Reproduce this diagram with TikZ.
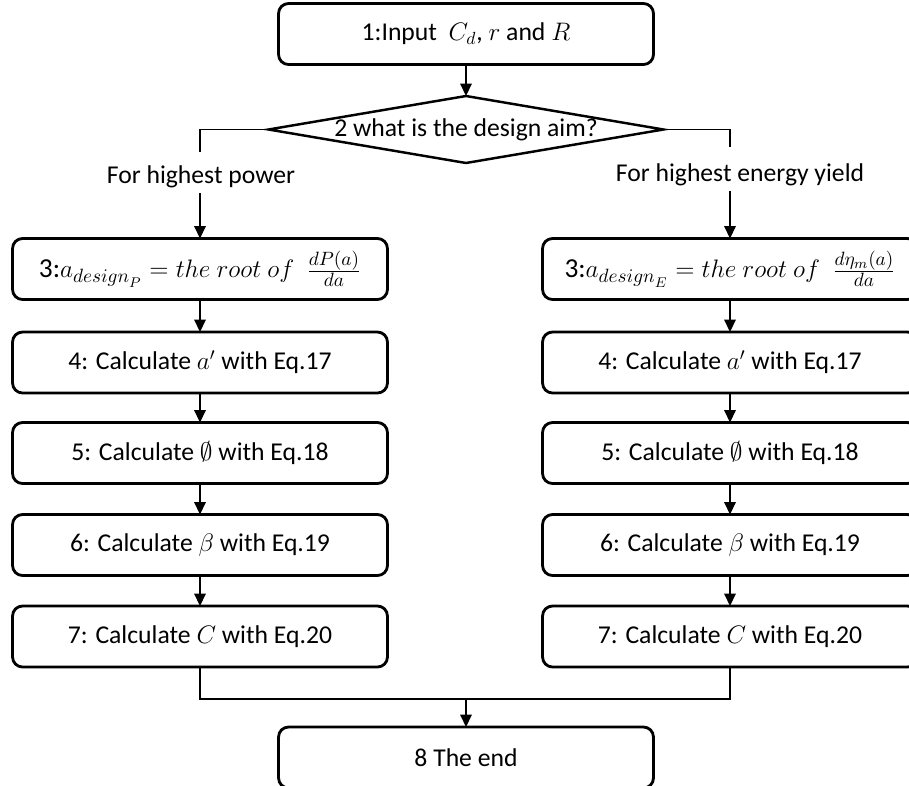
\documentclass[tikz,border=0pt]{standalone}
\usepackage{amsmath,amssymb}
\usepackage{fontspec}
\setmainfont{Carlito}
\usepackage{tikz}
\usetikzlibrary{arrows.meta,shapes.geometric}

\begin{document}
\begin{tikzpicture}[x=0.02cm,y=-0.02cm,
  stepbox/.style={draw, line width=1.6pt, rounded corners=0.2cm, minimum width=7.5cm, minimum height=1.22cm, inner sep=0pt, outer sep=0pt, font=\fontsize{14.6}{17}\selectfont},
  rootbox/.style={stepbox, font=\fontsize{15.6}{18}\selectfont},
  aimbox/.style={draw, diamond, line width=1.4pt, aspect=5.9, minimum width=7.9cm, minimum height=1.34cm, inner sep=0pt, outer sep=0pt, font=\fontsize{14.6}{17}\selectfont},
  branch/.style={inner sep=0.1cm, font=\fontsize{14.6}{17}\selectfont},
  link/.style={line width=0.8pt},
  arr/.style={line width=0.8pt, -{Triangle[width=6.5pt,length=7pt]}}]
\useasboundingbox (0,0) rectangle (909,785);

\node[stepbox] (input) at (466,34) {1:Input \ $C_d$, $r$ and $R$};
\node[aimbox] (aim) at (466,129.5) {2 what is the design aim?};

\node[branch] (lp) at (201,177) {For highest power};
\node[branch] (le) at (740,175) {For highest energy yield};
\coordinate (pl) at (200,152);
\coordinate (el) at (730,147);

\node[rootbox] (p3) at (200,269) {3:$a_{{design}_P} = the\ root\ of\ \ \frac{dP(a)}{da}$};
\node[stepbox] (p4) at (200,362.5) {4: Calculate $a'$ with Eq.17};
\node[stepbox] (p5) at (200,453) {5: Calculate $\emptyset$ with Eq.18};
\node[stepbox] (p6) at (200,545) {6: Calculate $\beta$ with Eq.19};
\node[stepbox] (p7) at (200,636.5) {7: Calculate $C$ with Eq.20};

\node[rootbox] (e3) at (730,269) {3:$a_{{design}_E} = the\ root\ of\ \ \frac{d\eta_m(a)}{da}$};
\node[stepbox] (e4) at (730,362.5) {4: Calculate $a'$ with Eq.17};
\node[stepbox] (e5) at (730,453) {5: Calculate $\emptyset$ with Eq.18};
\node[stepbox] (e6) at (730,545) {6: Calculate $\beta$ with Eq.19};
\node[stepbox] (e7) at (730,636.5) {7: Calculate $C$ with Eq.20};

\coordinate (m) at (466,699);
\node[stepbox] (end) at (466,757.5) {8 The end};

\draw[arr] (input) -- (aim);
\draw[link] (aim.west) -| (pl);
\draw[link] (aim.east) -| (el);
\draw[arr] (lp.south -| p3.north) -- (p3.north);
\draw[arr] (le.south -| e3.north) -- (e3.north);

\draw[arr] (p3) -- (p4);
\draw[arr] (p4) -- (p5);
\draw[arr] (p5) -- (p6);
\draw[arr] (p6) -- (p7);
\draw[arr] (e3) -- (e4);
\draw[arr] (e4) -- (e5);
\draw[arr] (e5) -- (e6);
\draw[arr] (e6) -- (e7);

\draw[link] (p7.south) |- (m);
\draw[link] (e7.south) |- (m);
\draw[arr] (m) -- (end);
\end{tikzpicture}
\end{document}
